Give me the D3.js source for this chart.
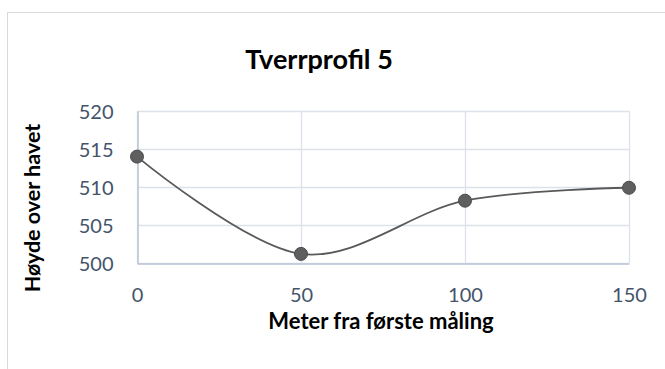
<!DOCTYPE html>
<html>
<head>
<meta charset="utf-8">
<script src="https://cdn.jsdelivr.net/npm/d3@7"></script>
<style>
  html, body { margin: 0; padding: 0; background: #fff; }
  svg { display: block; font-family: Lato, "Open Sans", sans-serif; }
</style>
</head>
<body>
<svg id="chart" width="665" height="369"></svg>
<script>
// Cross-section profile: distance from first measurement vs. elevation
const distances = [0, 50, 100, 150];
const heights = [514.0, 501.2, 508.2, 509.9];
const xTicks = [0, 50, 100, 150];
const yTicks = [500, 505, 510, 515, 520];
const titleText = "Tverrprofil 5";
const xTitle = "Meter fra første måling";
const yTitle = "Høyde over havet";

const svg = d3.select("#chart");
const W = 665, H = 369;
const plot = { left: 137, right: 629, top: 111, bottom: 263 };

// Outer chart frame
svg.append("rect")
  .attr("x", 7.5).attr("y", 12.5)
  .attr("width", W + 10).attr("height", H + 10)
  .attr("fill", "#fff").attr("stroke", "#d9d9d9").attr("stroke-width", 1);

const x = d3.scaleLinear().domain([0, 150]).range([plot.left, plot.right]);
const y = d3.scaleLinear().domain([500, 520]).range([plot.bottom, plot.top]);

// Gridlines
const grid = svg.append("g");
grid.selectAll("line.h").data(yTicks).join("line")
  .attr("x1", plot.left).attr("x2", plot.right)
  .attr("y1", d => Math.round(y(d)) + 0.5).attr("y2", d => Math.round(y(d)) + 0.5)
  .attr("stroke", "#dde2ea").attr("stroke-width", 1.3);
grid.selectAll("line.v").data(xTicks).join("line")
  .attr("y1", plot.top).attr("y2", plot.bottom)
  .attr("x1", d => Math.round(x(d)) + 0.5).attr("x2", d => Math.round(x(d)) + 0.5)
  .attr("stroke", "#dde2ea").attr("stroke-width", 1.3);

// Axes
const xAxis = svg.append("g")
  .attr("transform", `translate(0,${Math.round(y(500)) + 0.5})`)
  .call(d3.axisBottom(x).tickValues(xTicks).tickSize(0).tickPadding(24));
const yAxis = svg.append("g")
  .attr("transform", `translate(${Math.round(x(0)) + 0.5},0)`)
  .call(d3.axisLeft(y).tickValues(yTicks).tickSize(0).tickPadding(24));

[xAxis, yAxis].forEach(g => {
  g.select(".domain").attr("stroke", "#b9c4d6").attr("stroke-width", 1.5);
  g.selectAll("text")
    .attr("fill", "#44546a")
    .style("font-size", "20px")
    .style("font-family", "Lato, 'Open Sans', sans-serif");
});
yAxis.selectAll("text").attr("dy", "0.36em");

// Smoothed profile line
const line = d3.line()
  .x((d, i) => x(distances[i]))
  .y(d => y(d))
  .curve(d3.curveCatmullRom.alpha(0));
svg.append("path")
  .datum(heights)
  .attr("d", line)
  .attr("fill", "none")
  .attr("stroke", "#595959")
  .attr("stroke-width", 1.8);

// Markers
svg.selectAll("circle.pt").data(heights).join("circle")
  .attr("class", "pt")
  .attr("cx", (d, i) => x(distances[i]))
  .attr("cy", d => y(d))
  .attr("r", 6.5)
  .attr("fill", "#5f5f5f")
  .attr("stroke", "#4a4a4a")
  .attr("stroke-width", 1);

// Titles
svg.append("text")
  .attr("x", 319).attr("y", 69)
  .attr("text-anchor", "middle")
  .style("font-size", "27px").style("font-weight", "bold")
  .attr("fill", "#000")
  .text(titleText);

svg.append("text")
  .attr("x", 381).attr("y", 329)
  .attr("text-anchor", "middle")
  .style("font-size", "22px").style("font-weight", "bold")
  .attr("fill", "#000")
  .text(xTitle);

svg.append("text")
  .attr("transform", "translate(40,208) rotate(-90)")
  .attr("text-anchor", "middle")
  .style("font-size", "21.5px").style("font-weight", "bold")
  .attr("fill", "#000")
  .text(yTitle);
</script>
</body>
</html>
